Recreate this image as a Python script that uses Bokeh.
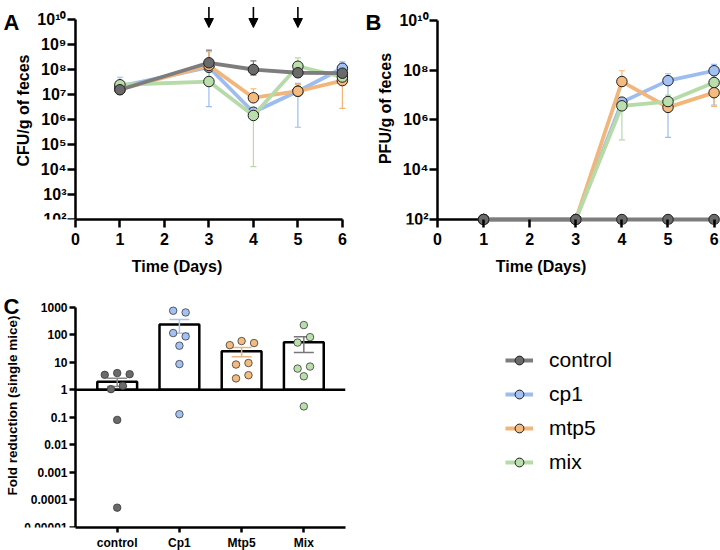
import numpy as np
from math import pi
from bokeh.plotting import figure
from bokeh.layouts import column, row
from bokeh.models import (ColumnDataSource, Whisker, TeeHead, Arrow, NormalHead, Label,
                          Legend, LegendItem, FixedTicker, CustomJSTickFormatter, Range1d)
from bokeh.embed import file_html
from bokeh.resources import INLINE

# ---------------- data ----------------
days = [1, 3, 4, 5, 6]
day_ticks = [0, 1, 2, 3, 4, 5, 6]
groups = ["control", "cp1", "mtp5", "mix"]
arrow_days = [3, 4, 5]

# Panel A: CFU/g of feces
cfu_control = [1.55e7, 1.86e8, 1.0e8, 7.4e7, 7.1e7]
cfu_control_hi = [2.0e7, 6.0e8, 2.2e8, 1.0e8, 1.6e8]
cfu_control_lo = [1.3e7, 1.2e8, 6.0e7, 5.0e7, 4.0e7]
cfu_cp1 = [2.1e7, 1.23e8, 1.95e6, 1.35e7, 1.12e8]
cfu_cp1_hi = [4.9e7, 2.0e8, 2.5e6, 2.8e7, 2.0e8]
cfu_cp1_lo = [2.1e7, 3.3e6, 1.95e6, 4.9e5, 4.0e7]
cfu_mtp5 = [1.6e7, 1.45e8, 7.4e6, 1.35e7, 3.6e7]
cfu_mtp5_hi = [1.8e7, 5.2e8, 1.7e7, 2.5e7, 5.0e7]
cfu_mtp5_lo = [1.6e7, 1.45e8, 7.4e6, 1.35e7, 2.8e6]
cfu_mix = [2.45e7, 3.3e7, 1.45e6, 1.35e8, 5.0e7]
cfu_mix_hi = [3.0e7, 8.0e7, 1.45e6, 2.9e8, 7.0e7]
cfu_mix_lo = [2.45e7, 3.3e7, 1.3e4, 1.35e8, 5.0e7]

# Panel B: PFU/g of feces (100 = detection limit / axis base)
pfu_base = 100
pfu_control = [100, 100, 100, 100, 100]
pfu_cp1 = [100, 100, 5.2e6, 3.8e7, 9.5e7]
pfu_cp1_hi = [100, 100, 7.1e6, 7.2e7, 1.7e8]
pfu_cp1_lo = [100, 100, 5.2e6, 2.0e5, 4.0e6]
pfu_mtp5 = [100, 100, 3.5e7, 3.2e6, 1.25e7]
pfu_mtp5_hi = [100, 100, 9.5e7, 3.2e6, 1.25e7]
pfu_mtp5_lo = [100, 100, 3.5e7, 3.2e6, 3.5e6]
pfu_mix = [100, 100, 3.7e6, 5.5e6, 3.2e7]
pfu_mix_hi = [100, 100, 7.0e6, 1.0e7, 4.0e7]
pfu_mix_lo = [100, 100, 1.6e5, 5.5e6, 3.2e7]

# Panel C: fold reduction (single mice)
categories = ["control", "Cp1", "Mtp5", "Mix"]
fold_control = [3.5, 4.05, 3.7, 1.06, 1.4, 0.081, 0.0000525]
fold_cp1 = [745, 645, 115, 87, 40, 8.6, 0.13]
fold_mtp5 = [42, 59, 50, 8.3, 9.4, 2.6, 3.4]
fold_mix = [225, 82, 52, 5.9, 7.0, 3.1, 0.25]
fold_baseline = 1

# ---------------- styles ----------------
FONT = "Liberation Sans"
line_colors = ["#7d7d7d", "#9dbcf0", "#f2b57a", "#b6daa8"]
fill_colors = ["#6a6a6a", "#a3c2f3", "#f5ba7e", "#badfad"]
err_colors_c = ["#8a8a8a", "#a9c4ee", "#e9b47f", "#777777"]
c_bounds = (-0.67, 3.67)
# horizontal spread of the single-mouse dots (layout only)
spread = [
    [-0.2, 0.0, 0.2, -0.1, 0.09, 0.0, 0.0],
    [-0.1, 0.1, -0.1, 0.1, 0.0, 0.0, 0.0],
    [-0.19, 0.0, 0.2, -0.09, 0.11, -0.09, 0.11],
    [0.0, 0.1, -0.1, -0.1, 0.1, 0.0, 0.0],
]

pow_fmt = CustomJSTickFormatter(code="""
const sup = {"0":"\u2070","1":"\u00b9","2":"\u00b2","3":"\u00b3","4":"\u2074","5":"\u2075","6":"\u2076","7":"\u2077","8":"\u2078","9":"\u2079"};
const e = Math.round(Math.log10(tick));
return "10" + String(e).split("").map(c => sup[c]).join("");
""")
dec_fmt = CustomJSTickFormatter(code="""
const e = Math.round(Math.log10(tick));
if (e >= 0) { return String(Math.round(tick)); }
return tick.toFixed(-e);
""")


def style(p, tick_size, label_size, tick_out=8):
    p.grid.visible = False
    p.outline_line_color = None
    for ax in p.axis:
        ax.axis_line_width = 2.5
        ax.axis_line_color = "black"
        ax.major_tick_line_width = 2.5
        ax.major_tick_line_color = "black"
        ax.major_tick_out = tick_out
        ax.major_tick_in = 0
        ax.minor_tick_line_color = None
        ax.major_label_text_font = FONT
        ax.major_label_text_font_style = "bold"
        ax.major_label_text_font_size = tick_size
        ax.major_label_text_color = "black"
        ax.axis_label_text_font = FONT
        ax.axis_label_text_font_style = "bold"
        ax.axis_label_text_font_size = label_size
        ax.axis_label_text_color = "black"
    p.xaxis.major_label_standoff = 5
    p.xaxis.axis_label_standoff = 10
    p.yaxis.major_label_standoff = 1


def text_label(p, text, x, y, size, angle=0.0, align="left", baseline="alphabetic"):
    p.add_layout(Label(x=x, y=y, x_units="screen", y_units="screen", text=text, angle=angle,
                       text_font=FONT, text_font_style="bold", text_font_size=size,
                       text_align=align, text_baseline=baseline, text_color="black"))


def y_title(p, text, x, y, size):
    text_label(p, text, x, y, size, angle=pi / 2, align="center", baseline="middle")


def time_series(p, series):
    for (vals, hi, lo), lc in zip(series, line_colors):
        if hi is not None:
            src = ColumnDataSource(dict(x=days, hi=hi, lo=lo))
            p.add_layout(Whisker(source=src, base="x", upper="hi", lower="lo", dimension="height",
                                 line_color=lc, line_width=1.2,
                                 upper_head=TeeHead(size=6, line_color=lc, line_width=1.2),
                                 lower_head=TeeHead(size=6, line_color=lc, line_width=1.2)))
    for i in [1, 2, 3, 0]:
        vals = series[i][0]
        p.line(days, vals, line_color=line_colors[i], line_width=3.8)
        p.scatter(days, vals, size=10.5, fill_color=fill_colors[i], line_color="#1e1e1e", line_width=1)


# ---------------- Panel A ----------------
pa = figure(frame_width=353, frame_height=219, x_range=Range1d(-1.685, 6.25),
            y_range=Range1d(1e2, 10 ** 10.76), y_axis_type="log",
            toolbar_location=None, output_backend="svg",
            min_border_left=0, min_border_right=8, min_border_top=0, min_border_bottom=61)
time_series(pa, [(cfu_control, cfu_control_hi, cfu_control_lo),
                 (cfu_cp1, cfu_cp1_hi, cfu_cp1_lo),
                 (cfu_mtp5, cfu_mtp5_hi, cfu_mtp5_lo),
                 (cfu_mix, cfu_mix_hi, cfu_mix_lo)])
for d in arrow_days:
    pa.add_layout(Arrow(x_start=d, y_start=10 ** 10.5, x_end=d, y_end=10 ** 9.68,
                        line_width=1.6, line_color="black",
                        end=NormalHead(size=9, fill_color="black", line_color="black")))
style(pa, "16px", "16px")
pa.xaxis.ticker = FixedTicker(ticks=day_ticks)
pa.xaxis.bounds = (day_ticks[0], day_ticks[-1])
pa.yaxis.fixed_location = day_ticks[0]
pa.yaxis.ticker = FixedTicker(ticks=[10.0 ** k for k in range(2, 11)])
pa.yaxis.bounds = (1e2, 1e10)
pa.yaxis.formatter = pow_fmt
pa.xaxis.axis_label = "Time (Days)"
y_title(pa, "CFU/g of feces", 23, 109, "16px")
text_label(pa, "A", 3, 197, "22px")

# ---------------- Panel B ----------------
pb = figure(frame_width=359, frame_height=224, x_range=Range1d(-1.649, 6.139),
            y_range=Range1d(10 ** 1.8, 10 ** 10.8), y_axis_type="log",
            toolbar_location=None, output_backend="svg",
            min_border_left=0, min_border_right=0, min_border_top=0, min_border_bottom=56)
pb.segment(x0=[day_ticks[0]], x1=[day_ticks[-1]], y0=[pfu_base], y1=[pfu_base],
           line_color="black", line_width=2.5, level="underlay")
time_series(pb, [(pfu_control, None, None),
                 (pfu_cp1, pfu_cp1_hi, pfu_cp1_lo),
                 (pfu_mtp5, pfu_mtp5_hi, pfu_mtp5_lo),
                 (pfu_mix, pfu_mix_hi, pfu_mix_lo)])
style(pb, "16px", "16px")
pb.xaxis.ticker = FixedTicker(ticks=day_ticks)
pb.xaxis.bounds = (day_ticks[0], day_ticks[-1])
pb.xaxis.axis_line_color = None
pb.xaxis.major_tick_in = 5
pb.xaxis.major_tick_out = 3
pb.yaxis.fixed_location = day_ticks[0]
pb.yaxis.ticker = FixedTicker(ticks=[10.0 ** k for k in range(2, 11, 2)])
pb.yaxis.bounds = (1e2, 1e10)
pb.yaxis.formatter = pow_fmt
pb.xaxis.axis_label = "Time (Days)"
y_title(pb, "PFU/g of feces", 24, 116, "16px")
text_label(pb, "B", 4, 202, "22px")

# ---------------- Panel C ----------------
pc = figure(frame_width=345, frame_height=243, x_range=Range1d(-1.876, 3.67),
            y_range=Range1d(1e-5, 10 ** 3.825), y_axis_type="log",
            toolbar_location=None, output_backend="svg",
            min_border_left=0, min_border_right=15, min_border_top=4, min_border_bottom=23)
fold_all = [fold_control, fold_cp1, fold_mtp5, fold_mix]
idx = list(range(len(categories)))
means = [float(np.mean(v)) for v in fold_all]
sems = [float(np.std(v, ddof=1) / np.sqrt(len(v))) for v in fold_all]
pc.vbar(x=idx, top=means, bottom=fold_baseline, width=0.64, fill_color="white", line_color="black",
        line_width=2.5, level="image")
pc.segment(x0=[c_bounds[0]], x1=[c_bounds[1]], y0=[fold_baseline], y1=[fold_baseline],
           line_color="black", line_width=2.5, level="underlay")
for i in idx:
    src = ColumnDataSource(dict(x=[i], up=[means[i] + sems[i]], lo=[max(means[i] - sems[i], 1e-6)]))
    pc.add_layout(Whisker(source=src, base="x", upper="up", lower="lo", dimension="height",
                          line_color=err_colors_c[i], line_width=1.5, level="underlay",
                          upper_head=TeeHead(size=20, line_color=err_colors_c[i], line_width=1.5),
                          lower_head=TeeHead(size=20, line_color=err_colors_c[i], line_width=1.5)))
for i in idx:
    xs = [i + o for o in spread[i]]
    pc.scatter(xs, fold_all[i], size=7.5, fill_color=fill_colors[i], line_color="#3a3a3a", line_width=0.8)
style(pc, "12px", "15px", tick_out=6)
pc.xaxis.major_tick_out = 5
pc.xaxis.major_label_standoff = 3
pc.yaxis.major_label_standoff = 2
pc.xaxis.ticker = FixedTicker(ticks=idx)
pc.xaxis.major_label_overrides = {i: c for i, c in zip(idx, categories)}
pc.xaxis.bounds = c_bounds
pc.yaxis.fixed_location = c_bounds[0]
pc.yaxis.ticker = FixedTicker(ticks=[10.0 ** k for k in range(-5, 4)])
pc.yaxis.bounds = (1e-5, 1e3)
pc.yaxis.formatter = dec_fmt
y_title(pc, "Fold reduction (single mice)", 12, 122, "13.5px")
text_label(pc, "C", 3, 221, "22px")

# ---------------- Legend panel ----------------
pl = figure(width=360, height=270, x_range=(0, 1), y_range=(0, 1),
            toolbar_location=None, output_backend="svg", min_border=0)
pl.axis.visible = False
pl.grid.visible = False
pl.outline_line_color = None
items = []
for g, vals, lc, fc in zip(groups, [cfu_control, cfu_cp1, cfu_mtp5, cfu_mix], line_colors, fill_colors):
    rl = pl.line(x=days, y=vals, line_color=lc, line_width=4, visible=False)
    rs = pl.scatter(x=days, y=vals, size=10.5, fill_color=fc, line_color="#1e1e1e", line_width=1, visible=False)
    items.append(LegendItem(label=g, renderers=[rl, rs]))
leg = Legend(items=items, location=(145, 51), glyph_width=28, glyph_height=22, label_height=22,
             spacing=10, padding=0, margin=0, label_standoff=16,
             label_text_font=FONT, label_text_font_size="21px", label_text_color="black",
             border_line_color=None, background_fill_alpha=0, inactive_fill_alpha=0)
pl.add_layout(leg)

layout = column(row(pa, pb), row(pc, pl))
open("out.html", "w").write(file_html(layout, INLINE))
